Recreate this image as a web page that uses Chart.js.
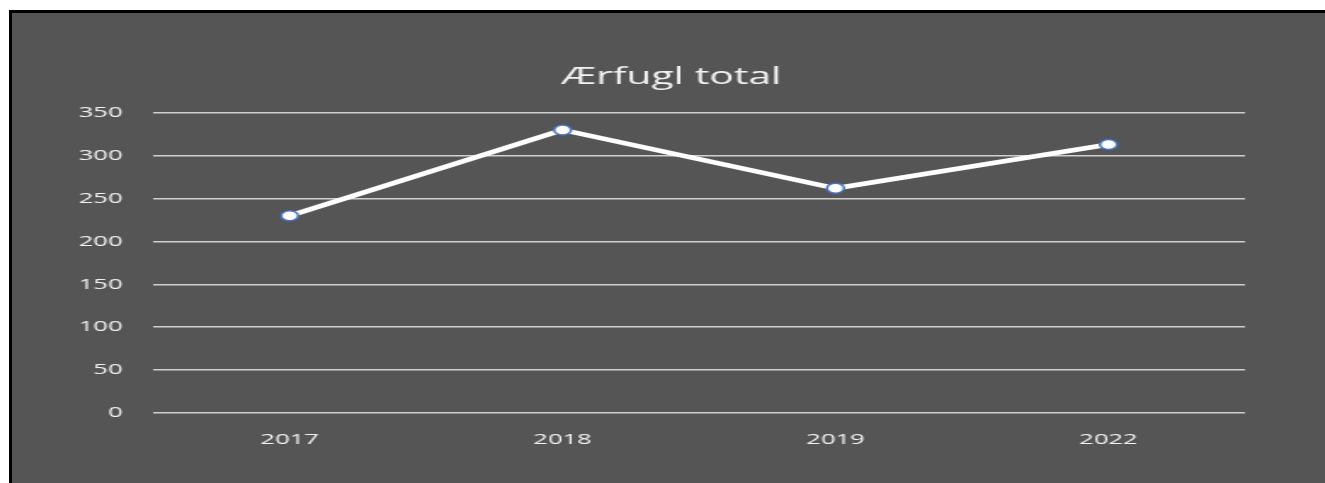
<!DOCTYPE html>
<html>
<head>
<meta charset="utf-8">
<script src="https://cdn.jsdelivr.net/npm/chart.js@4"></script>
<style>
  html, body { margin: 0; padding: 0; background: #ffffff; overflow: hidden; }
  #frame {
    position: absolute; left: 9px; top: 10px;
    width: 1330px; height: 480px;
    border-left: 3px solid #000; border-top: 3px solid #000;
    background: #555555; overflow: hidden;
  }
</style>
</head>
<body>
<div id="frame">
  <!-- the original picture is stretched sideways: draw 775 wide, show 1.7x -->
  <canvas id="chart" width="775" height="470" style="width:1317.5px;height:470px"></canvas>
</div>
<script>
const YEARS = ["2017", "2018", "2019", "2022"];
const TOTALS = [230, 330, 262, 313];
const Y_TICKS = [0, 50, 100, 150, 200, 250, 300, 350];

const TEXT = "#f2f2f2";
const FONT = "'Open Sans', sans-serif";

new Chart(document.getElementById("chart"), {
  type: "line",
  data: {
    labels: YEARS,
    datasets: [{
      label: "Ærfugl total",
      data: TOTALS,
      borderColor: "#ffffff",
      borderWidth: 4.5,
      pointRadius: 5,
      pointHoverRadius: 5,
      pointBackgroundColor: "#ffffff",
      pointBorderColor: "#4472C4",
      pointBorderWidth: 1.5,
      tension: 0,
    }],
  },
  options: {
    responsive: false,
    animation: false,
    layout: { padding: 0 },
    plugins: {
      legend: { display: false },
      tooltip: { enabled: false },
      title: {
        display: true,
        text: "Ærfugl total",
        color: TEXT,
        font: { family: FONT, size: 24, weight: "normal" },
        padding: { top: 50, bottom: 21 },
      },
    },
    scales: {
      x: {
        offset: true,
        grid: { display: false },
        border: { display: false },
        ticks: { color: TEXT, font: { family: FONT, size: 15 }, padding: 10 },
        afterFit: s => { s.height = 70; },
      },
      y: {
        min: 0,
        max: 350,
        afterBuildTicks: s => { s.ticks = Y_TICKS.map(v => ({ value: v })); },
        grid: { color: "#cfcfcf", lineWidth: 1.5, drawTicks: false },
        border: { display: false },
        ticks: { color: TEXT, font: { family: FONT, size: 15 }, padding: 18 },
        afterFit: s => { s.width = 83; },
      },
      // empty spacer on the right so the plot ends where the original does
      spacer: {
        type: "linear",
        position: "right",
        grid: { display: false },
        border: { display: false },
        ticks: { display: false },
        afterFit: s => { s.width = 50; },
      },
    },
  },
});
</script>
</body>
</html>
